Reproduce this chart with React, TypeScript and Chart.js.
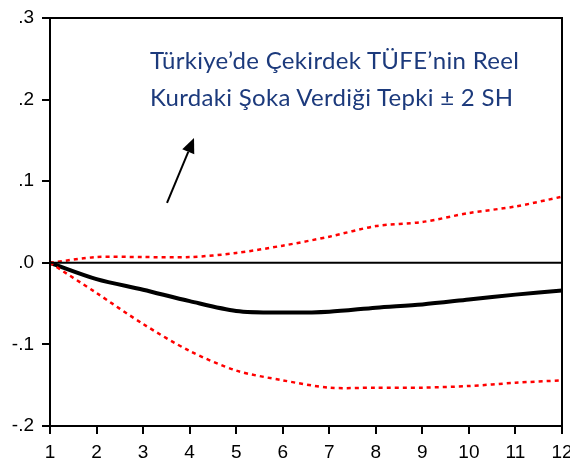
import React, { useEffect, useRef } from "react";
import { Chart, registerables } from "chart.js";
Chart.register(...registerables);

const periods = [1, 2, 3, 4, 5, 6, 7, 8, 9, 10, 11, 12];
const response = [0, -0.02, -0.033, -0.047, -0.059, -0.061, -0.06, -0.055, -0.051, -0.045, -0.039, -0.034];
const upperBand = [0, 0.007, 0.007, 0.007, 0.012, 0.021, 0.032, 0.045, 0.05, 0.061, 0.069, 0.081];
const lowerBand = [0, -0.037, -0.075, -0.108, -0.132, -0.144, -0.153, -0.153, -0.153, -0.151, -0.147, -0.144];
const yTicks = [-0.2, -0.1, 0, 0.1, 0.2, 0.3];
const titleLines = ["Türkiye’de Çekirdek TÜFE’nin Reel", "Kurdaki Şoka Verdiği Tepki ± 2 SH"];
const arrowTail = { x: 3.514, y: 0.0735 };
const arrowTip = { x: 4.094, y: 0.153 };

const tickFont = "'Liberation Sans', Arial, sans-serif";

const framePlugin = {
  id: "frame",
  afterDatasetsDraw(chart: any) {
    const { ctx, chartArea, scales } = chart;
    ctx.save();
    ctx.strokeStyle = "#000";
    ctx.lineWidth = 2;
    ctx.strokeRect(chartArea.left, chartArea.top, chartArea.right - chartArea.left, chartArea.bottom - chartArea.top);
    // zero line
    const yz = scales.y.getPixelForValue(0);
    ctx.beginPath();
    ctx.moveTo(chartArea.left, yz);
    ctx.lineTo(chartArea.right, yz);
    ctx.stroke();
    // arrow annotation
    const x0 = scales.x.getPixelForValue(arrowTail.x);
    const y0 = scales.y.getPixelForValue(arrowTail.y);
    const x1 = scales.x.getPixelForValue(arrowTip.x);
    const y1 = scales.y.getPixelForValue(arrowTip.y);
    const ang = Math.atan2(y1 - y0, x1 - x0);
    const headLen = 15;
    const headW = 6.5;
    const bx = x1 - headLen * Math.cos(ang);
    const by = y1 - headLen * Math.sin(ang);
    ctx.beginPath();
    ctx.moveTo(x0, y0);
    ctx.lineTo(bx, by);
    ctx.stroke();
    ctx.fillStyle = "#000";
    ctx.beginPath();
    ctx.moveTo(x1, y1);
    ctx.lineTo(bx + headW * Math.sin(ang), by - headW * Math.cos(ang));
    ctx.lineTo(bx - headW * Math.sin(ang), by + headW * Math.cos(ang));
    ctx.closePath();
    ctx.fill();
    ctx.restore();
  },
};

export default function App() {
  const ref = useRef<HTMLCanvasElement>(null);
  useEffect(() => {
    document.body.style.margin = "0";
    const chart = new Chart(ref.current as HTMLCanvasElement, {
      type: "line",
      data: {
        labels: periods,
        datasets: [
          {
            label: "Upper",
            data: periods.map((p, i) => ({ x: p, y: upperBand[i] })),
            borderColor: "#ff0000",
            borderWidth: 2.5,
            borderDash: [4, 4],
            pointRadius: 0,
            tension: 0.3,
            fill: false,
            order: 0,
          },
          {
            label: "Lower",
            data: periods.map((p, i) => ({ x: p, y: lowerBand[i] })),
            borderColor: "#ff0000",
            borderWidth: 2.5,
            borderDash: [4, 4],
            pointRadius: 0,
            tension: 0.3,
            fill: false,
            order: 0,
          },
          {
            label: "Response",
            data: periods.map((p, i) => ({ x: p, y: response[i] })),
            borderColor: "#000000",
            borderWidth: 4,
            pointRadius: 0,
            tension: 0.3,
            fill: false,
            order: 1,
          },
        ],
      },
      options: {
        responsive: false,
        animation: false,
        layout: { padding: { left: 0, top: 18, right: 8, bottom: 0 } },
        plugins: {
          legend: { display: false },
          tooltip: { enabled: false },
          title: { display: false },
        },
        scales: {
          x: {
            type: "linear",
            min: 1,
            max: 12,
            afterBuildTicks: (axis: any) => {
              axis.ticks = periods.map((v) => ({ value: v }));
            },
            afterFit: (axis: any) => {
              axis.height = 41;
              axis.paddingLeft = 0;
              axis.paddingRight = 0;
            },
            ticks: {
              autoSkip: false,
              maxRotation: 0,
              color: "#000",
              padding: 7,
              font: { family: tickFont, size: 19 },
              callback: (v: any) => String(v),
            },
            grid: {
              drawOnChartArea: false,
              drawTicks: true,
              tickLength: 8,
              color: "#000",
              lineWidth: 2,
            },
            border: { display: true, color: "#000", width: 2 },
          },
          y: {
            type: "linear",
            min: -0.2,
            max: 0.3,
            afterBuildTicks: (axis: any) => {
              axis.ticks = yTicks.map((v) => ({ value: v }));
            },
            afterFit: (axis: any) => {
              axis.width = 50;
              axis.paddingTop = 0;
              axis.paddingBottom = 0;
            },
            ticks: {
              color: "#000",
              padding: 8,
              font: { family: tickFont, size: 19 },
              callback: (v: any) => Number(v).toFixed(1).replace("0.", "."),
            },
            grid: {
              drawOnChartArea: false,
              drawTicks: true,
              tickLength: 8,
              color: "#000",
              lineWidth: 2,
            },
            border: { display: true, color: "#000", width: 2 },
          },
        },
      },
      plugins: [framePlugin],
    });
    return () => chart.destroy();
  }, []);

  return (
    <div style={{ position: "fixed", left: 0, top: 0, width: 570, height: 467, background: "#fff" }}>
      <canvas ref={ref} width={570} height={467} style={{ display: "block" }} />
      <div
        style={{
          position: "absolute",
          left: 150,
          top: 41,
          color: "#1c3a7c",
          fontFamily: "Lato, 'Open Sans', sans-serif",
          fontSize: 24,
          letterSpacing: "0.3px",
          lineHeight: "37.4px",
          whiteSpace: "nowrap",
        }}
      >
        {titleLines.map((t, i) => (
          <div key={i}>{t}</div>
        ))}
      </div>
    </div>
  );
}
